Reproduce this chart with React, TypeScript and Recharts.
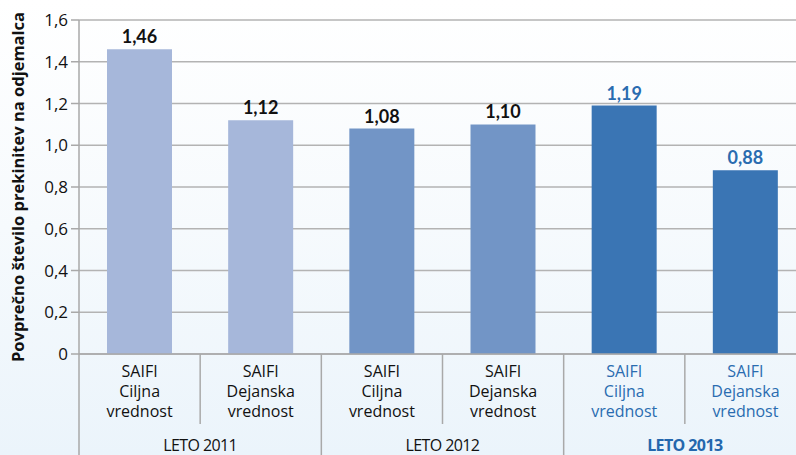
import React from 'react';
import { BarChart, Bar, XAxis, YAxis, CartesianGrid, Cell, LabelList } from 'recharts';

const categories = ['SAIFI|Ciljna|vrednost', 'SAIFI|Dejanska|vrednost', 'SAIFI|Ciljna|vrednost', 'SAIFI|Dejanska|vrednost', 'SAIFI|Ciljna|vrednost', 'SAIFI|Dejanska|vrednost'];
const years = ['LETO 2011', 'LETO 2011', 'LETO 2012', 'LETO 2012', 'LETO 2013', 'LETO 2013'];
const values = [1.46, 1.12, 1.08, 1.1, 1.19, 0.88];
const yTicks = [0, 0.2, 0.4, 0.6, 0.8, 1.0, 1.2, 1.4, 1.6];

const barColors = ['#a6b7da', '#a6b7da', '#7295c6', '#7295c6', '#3a75b4', '#3a75b4'];
const textColors = ['#111', '#111', '#111', '#111', '#2a6cb0', '#2a6cb0'];

const data = categories.map((c, i) => ({ name: c + '#' + i, label: c, year: years[i], value: values[i] }));

const font = 'Lato, "Open Sans", sans-serif';
const wide = '"Open Sans", Lato, sans-serif';
const fmt = (v: number) => (v === 0 ? '0' : v.toFixed(1).replace('.', ','));
const fmt2 = (v: number) => v.toFixed(2).replace('.', ',');

const XTick = (props: any) => {
  const { x, y, payload, index } = props;
  const off = payload.offset || 60;
  const d = data[index];
  const lines = d.label.split('|');
  const color = textColors[index];
  const last = index === data.length - 1 || data[index + 1].year !== d.year;
  const first = index === 0 || data[index - 1].year !== d.year;
  return (
    <g>
      {lines.map((l: string, i: number) => (
        <text key={i} x={x} y={y + 23 + i * 20} textAnchor="middle" fill={color} fontSize={16} fontFamily={wide}>
          {l}
        </text>
      ))}
      {!last && <line x1={x + off} x2={x + off} y1={y} y2={y + 70} stroke="#a9a9a9" strokeWidth={1.5} />}
      {first && <line x1={x - off} x2={x - off} y1={y} y2={y + 101} stroke="#a9a9a9" strokeWidth={1.5} />}
      {first && (
        <text
          x={x + off}
          y={y + 97}
          textAnchor="middle"
          fill={index >= 4 ? '#2467ad' : '#111'}
          fontWeight={index >= 4 ? 700 : 400}
          fontSize={16}
          fontFamily={wide}
          letterSpacing={-0.6}
        >
          {d.year}
        </text>
      )}
    </g>
  );
};

export default function App() {
  return (
    <div
      style={{
        position: 'fixed',
        left: 0,
        top: 0,
        width: 796,
        height: 455,
        overflow: 'hidden',
        background: 'linear-gradient(to bottom, #ffffff 0%, #f6fafd 50%, #ebf4fb 100%)',
      }}
    >
      <BarChart width={806} height={455} data={data} margin={{ top: 20, right: 0, bottom: 0, left: 0 }}>
        <CartesianGrid vertical={false} stroke="#b3b3b3" strokeWidth={1.5} />
        <XAxis
          dataKey="name"
          interval={0}
          height={101}
          tickSize={0}
          tickMargin={0}
          tickLine={false}
          stroke="#a9a9a9"
          strokeWidth={1.5}
          tick={<XTick />}
        />
        <YAxis
          width={79}
          domain={[0, 1.6]}
          ticks={yTicks}
          tickFormatter={fmt}
          tickSize={8}
          tickMargin={3}
          stroke="#a9a9a9"
          strokeWidth={1.5}
          tick={{ fill: '#111', fontSize: 17, fontFamily: wide }}
          label={{
            value: 'Povprečno število prekinitev na odjemalca',
            angle: -90,
            position: 'insideLeft',
            offset: 18,
            style: { textAnchor: 'middle', fontWeight: 700, fontSize: 16.5, fontFamily: wide, fill: '#111' },
          }}
        />
        <Bar dataKey="value" barSize={65} isAnimationActive={false}>
          {data.map((d, i) => (
            <Cell key={i} fill={barColors[i]} />
          ))}
          <LabelList
            dataKey="value"
            position="top"
            offset={6}
            content={(p: any) => (
              <text
                x={p.x + p.width / 2}
                y={p.y - 6}
                textAnchor="middle"
                fontWeight={700}
                fontSize={18}
                fontFamily={font}
                fill={textColors[p.index]}
              >
                {fmt2(p.value)}
              </text>
            )}
          />
        </Bar>
      </BarChart>
    </div>
  );
}
